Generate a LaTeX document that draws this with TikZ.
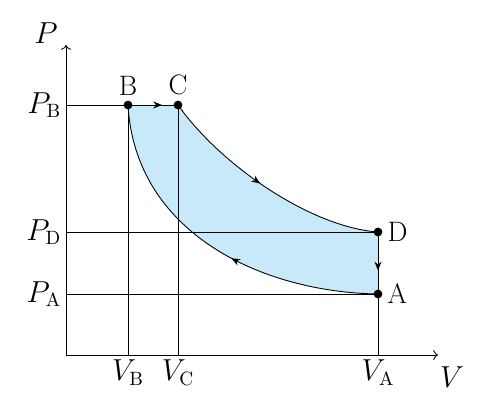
\documentclass[tikz,border=0pt]{standalone}
\usetikzlibrary{decorations.markings,arrows.meta}

\tikzset{
  statept/.style={circle,fill=black,inner sep=0pt,minimum size=5pt},
  midarrow/.style={postaction={decorate},
    decoration={markings,mark=at position #1 with {\arrow{Stealth[length=5pt,width=4pt]}}}},
  axlabel/.style={inner sep=2.5pt},
}

\begin{document}
\begin{tikzpicture}[font=\fontsize{16}{20}\selectfont, line width=0.5pt]

    % Colour of the cycle area
    \definecolor{cyclefill}{RGB}{200,233,249}

    \useasboundingbox (0,0) rectangle (10,8.04);

    % Axes end points
    \coordinate (O) at (1.32,0.94);
    \coordinate (Ptop) at (1.32,7.14);
    \coordinate (Vend) at (8.76,0.94);

    % States of the cycle
    \coordinate (B) at (2.56,5.94);
    \coordinate (C) at (3.56,5.94);
    \coordinate (D) at (7.56,3.40);
    \coordinate (A) at (7.56,2.16);

    % Cycle area
    \fill[cyclefill] (B) -- (C) .. controls (4.4,4.75) and (6.2,3.5) .. (D)
        -- (A) .. controls (5.2,2.2) and (2.7,3.4) .. (B) -- cycle;

    % Axis labels
    \node (lP) at (0.92,7.38) {$P$};
    \node (lV) at (9.04,0.50) {$V$};
    \node[axlabel,left] (lPB) at (O |- B) {$P_{\mathrm{B}}$};
    \node[axlabel,left] (lPD) at (O |- D) {$P_{\mathrm{D}}$};
    \node[axlabel,left] (lPA) at (O |- A) {$P_{\mathrm{A}}$};
    \node[axlabel,below] (lVB) at (B |- O) {$V_{\mathrm{B}}$};
    \node[axlabel,below] (lVC) at (C |- O) {$V_{\mathrm{C}}$};
    \node[axlabel,below] (lVA) at (A |- O) {$V_{\mathrm{A}}$};

    % Guide lines
    \draw (lPB.east -| O) -- (B);
    \draw (lPD.east -| O) -- (D);
    \draw (lPA.east -| O) -- (A);
    \draw (B) -- (lVB.north |- O);
    \draw (C) -- (lVC.north |- O);
    \draw (A) -- (lVA.north |- O);

    % Axes
    \draw[->] (O) -- (Ptop);
    \draw[->] (O) -- (Vend);

    % Processes
    \draw[midarrow=0.68] (B) -- (C);
    \draw[midarrow=0.47] (C) .. controls (4.4,4.75) and (6.2,3.5) .. (D);
    \draw[midarrow=0.62] (D) -- (A);
    \draw[midarrow=0.44] (A) .. controls (5.2,2.2) and (2.7,3.4) .. (B);

    % State points
    \node[statept,label={[axlabel]above:B}] (nB) at (B) {};
    \node[statept,label={[axlabel]above:C}] (nC) at (C) {};
    \node[statept,label={[axlabel]right:D}] (nD) at (D) {};
    \node[statept,label={[axlabel]right:A}] (nA) at (A) {};

\end{tikzpicture}
\end{document}
